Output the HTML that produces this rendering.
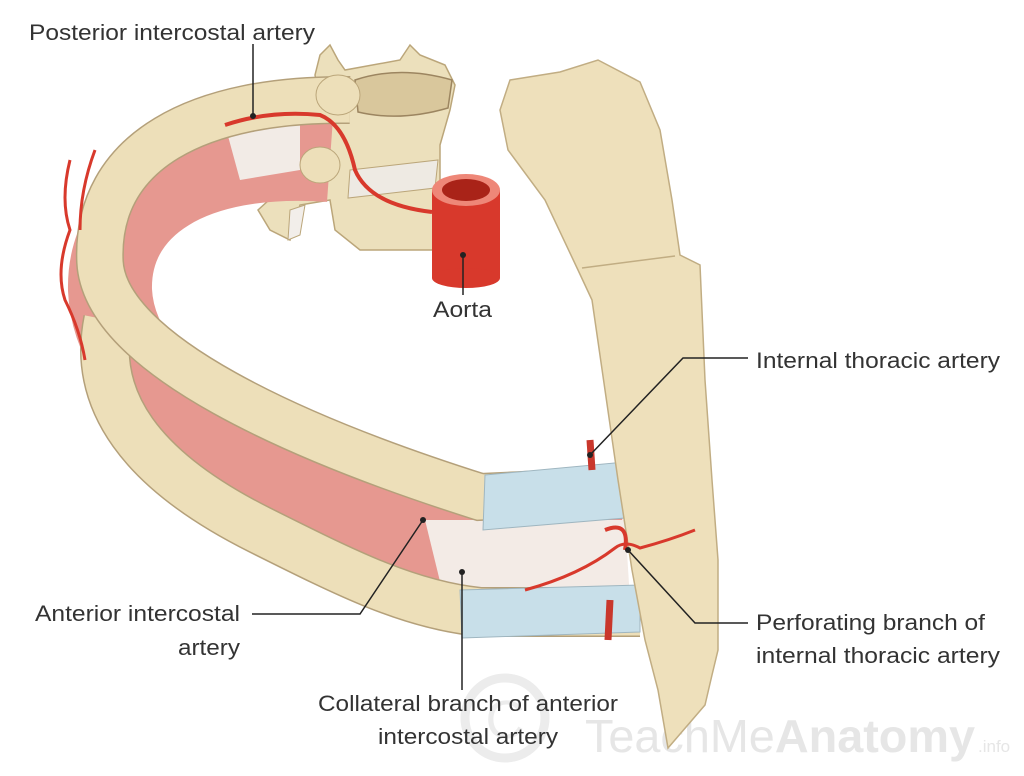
<!DOCTYPE html>
<html><head><meta charset="utf-8"><style>
html,body{margin:0;padding:0;background:#fff;}
svg{display:block;}
text{font-family:"Liberation Sans",sans-serif;fill:#333;}
</style></head><body>
<svg width="1024" height="776" viewBox="0 0 1024 776" xmlns="http://www.w3.org/2000/svg">
<!-- watermark -->
<circle cx="505" cy="718" r="40" fill="none" stroke="#ececec" stroke-width="9"/>
<text x="505" y="738" font-size="54" text-anchor="middle" style="fill:#ececec">C</text>
<text x="585" y="752" font-size="46" textLength="390" lengthAdjust="spacingAndGlyphs" style="fill:#e6e6e6">TeachMe<tspan font-weight="bold">Anatomy</tspan></text>
<text x="978" y="752" font-size="17" style="fill:#e6e6e6">.info</text>

<!-- vertebra -->
<path d="M320,55 L330,45 L338,60 L345,70 L400,60 L410,45 L420,55 L445,65 L455,85 L450,110 L440,145 L440,250 L360,250 L335,230 L330,200 L300,205 L290,240 L270,230 L258,210 L280,190 L310,180 L320,150 L320,100 L315,75Z" fill="#ece0bc" stroke="#bba67a" stroke-width="1.5"/>
<path d="M355,80 Q400,65 452,80 L448,108 Q400,122 358,112Z" fill="#d9c79c" stroke="#9c8560" stroke-width="1.5"/>
<path d="M350,170 L438,160 L435,188 L348,198Z" fill="#eeeae3" stroke="#bba67a"/>
<path d="M290,210 L305,205 L300,235 L288,240Z" fill="#f2eeea" stroke="#bba67a"/>
<!-- aorta -->
<rect x="432" y="190" width="68" height="88" fill="#d8392c"/>
<ellipse cx="466" cy="278" rx="34" ry="10" fill="#d8392c"/>
<ellipse cx="466" cy="190" rx="34" ry="16" fill="#ee8778"/>
<ellipse cx="466" cy="190" rx="24" ry="11" fill="#a92318"/>

<!-- muscle band -->
<path d="M330,160 C190,150 108,205 110,290 C115,410 300,500 480,552 L620,560" fill="none" stroke="#e69890" stroke-width="84"/>
<path d="M225,125 L300,118 L300,170 L240,180Z" fill="#f2ebe6"/>
<path d="M425,520 L625,520 L630,600 L445,602Z" fill="#f3ebe6"/>

<!-- lower rib -->
<path d="M108,320 C92,400 140,470 260,530 C350,575 410,605 480,612 L640,612" fill="none" stroke="#b4a07a" stroke-width="50"/>
<path d="M108,320 C92,400 140,470 260,530 C350,575 410,605 480,612 L640,612" fill="none" stroke="#eddfb9" stroke-width="47"/>
<path d="M460,590 L640,585 L640,632 L462,638Z" fill="#c8dfe9" stroke="#9fb6c0"/>

<!-- upper rib -->
<path d="M350,100 C200,98 95,150 100,262 C105,355 300,440 480,497 L630,490" fill="none" stroke="#b4a07a" stroke-width="48"/>
<path d="M350,100 C200,98 95,150 100,262 C105,355 300,440 480,497 L630,490" fill="none" stroke="#eddfb9" stroke-width="45"/>
<path d="M485,475 L625,462 Q632,492 625,518 L483,530Z" fill="#c8dfe9" stroke="#9fb6c0"/>
<ellipse cx="338" cy="95" rx="22" ry="20" fill="#eddfb9" stroke="#bba67a"/>
<ellipse cx="320" cy="165" rx="20" ry="18" fill="#eddfb9" stroke="#bba67a"/>

<!-- sternum -->
<polygon points="510,80 560,72 598,60 640,82 660,130 672,200 680,255 700,265 705,380 712,480 718,560 718,650 712,675 705,705 668,748 658,690 645,640 632,570 618,480 605,390 592,300 578,270 545,200 508,150 500,110" fill="#eee0bb" stroke="#c1ad83" stroke-width="1.5"/>
<path d="M582,268 L675,256" stroke="#c1ad83" stroke-width="1.5"/>

<!-- arteries -->
<path d="M225,125 Q270,110 320,115 Q345,125 355,170 Q370,205 432,212" fill="none" stroke="#d8392c" stroke-width="4"/>
<path d="M70,160 Q60,200 70,230 Q55,270 65,300 Q80,330 85,360 M95,150 Q80,190 80,230" fill="none" stroke="#d8392c" stroke-width="3"/>
<path d="M590,440 L592,470" stroke="#c9372c" stroke-width="7"/>
<path d="M610,600 L608,640" stroke="#c9372c" stroke-width="7"/>
<path d="M525,590 Q580,575 615,548 Q625,540 640,548 Q670,540 695,530" fill="none" stroke="#d8392c" stroke-width="3"/>
<path d="M605,530 Q630,520 625,550" fill="none" stroke="#d8392c" stroke-width="4"/>

<!-- leader lines -->
<g stroke="#222" stroke-width="1.5" fill="none">
<path d="M253,44 L253,115"/>
<path d="M463,255 L463,295"/>
<path d="M590,455 L683,358 L748,358"/>
<path d="M628,550 L695,623 L748,623"/>
<path d="M252,614 L360,614 L423,520"/>
<path d="M462,572 L462,690"/>
</g>
<g fill="#222">
<circle cx="253" cy="116" r="3"/><circle cx="463" cy="255" r="3"/>
<circle cx="590" cy="455" r="3"/><circle cx="628" cy="550" r="3"/>
<circle cx="423" cy="520" r="3"/><circle cx="462" cy="572" r="3"/>
</g>

<!-- labels -->
<g font-size="22">
<text x="29" y="40" textLength="286" lengthAdjust="spacingAndGlyphs">Posterior intercostal artery</text>
<text x="433" y="317" textLength="59" lengthAdjust="spacingAndGlyphs">Aorta</text>
<text x="756" y="368" textLength="244" lengthAdjust="spacingAndGlyphs">Internal thoracic artery</text>
<text x="756" y="630" textLength="229" lengthAdjust="spacingAndGlyphs">Perforating branch of</text>
<text x="756" y="663" textLength="244" lengthAdjust="spacingAndGlyphs">internal thoracic artery</text>
<text x="35" y="621" textLength="205" lengthAdjust="spacingAndGlyphs">Anterior intercostal</text>
<text x="178" y="655" textLength="62" lengthAdjust="spacingAndGlyphs">artery</text>
<text x="318" y="711" textLength="300" lengthAdjust="spacingAndGlyphs">Collateral branch of anterior</text>
<text x="378" y="744" textLength="180" lengthAdjust="spacingAndGlyphs">intercostal artery</text>
</g>
</svg>
</body></html>
